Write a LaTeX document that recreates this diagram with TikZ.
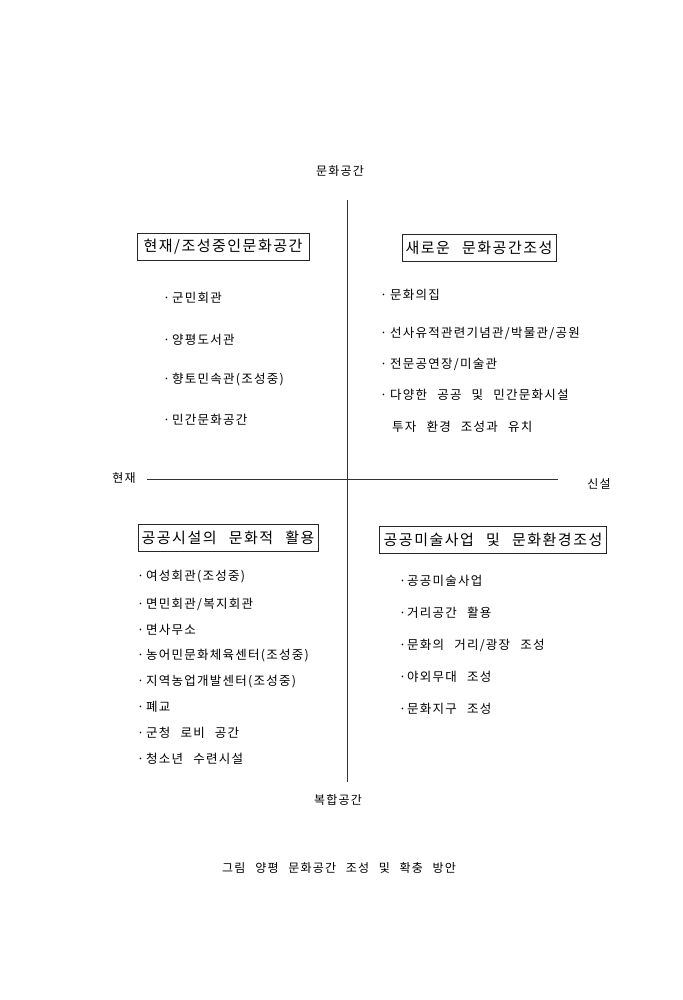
\documentclass[tikz,border=0pt]{standalone}
\usepackage{fontspec}
\setmainfont{Noto Sans CJK KR}[WordSpace=2.5,LetterSpace=10]

\begin{document}
\begin{tikzpicture}[x=1pt,y=-1pt,
    titlebox/.style={draw=black!85,line width=0.6pt,inner xsep=0pt,inner ysep=0pt,
      minimum height=27pt,font=\fontsize{15}{17}\selectfont},
    item/.style={anchor=west,inner sep=0pt,font=\fontsize{12.5}{14}\selectfont},
    axislabel/.style={inner sep=1pt,font=\fontsize{12}{14}\selectfont},
    axisline/.style={draw=black!80,line width=0.6pt}]

  \useasboundingbox[fill=white] (0,0) rectangle (682,1000);

  % axes
  \coordinate (top) at (347,200);
  \coordinate (bottom) at (347,782);
  \coordinate (left) at (147,479);
  \coordinate (right) at (558,479);
  \draw[axisline] (top) -- (bottom);
  \draw[axisline] (left) -- (right);

  \node[axislabel] (culture) at (340,171) {문화공간};
  \node[axislabel] (complex) at (338,800) {복합공간};
  \node[axislabel] (existing) at (124,478) {현재};
  \node[axislabel] (newbuilt) at (599,484) {신설};

  % quadrant titles
  \node[titlebox,minimum width=172pt] (tl) at (223,247) {현재/조성중인문화공간};
  \node[titlebox,minimum width=154pt] (tr) at (479,248) {새로운 문화공간조성};
  \node[titlebox,minimum width=180pt] (bl) at (228,538) {공공시설의 문화적 활용};
  \node[titlebox,minimum width=227pt] (br) at (493,540) {공공미술사업 및 문화환경조성};

  % items
  \foreach \y/\txt [count=\i] in {298/군민회관, 340/양평도서관, 380/향토민속관(조성중), 420/민간문화공간} {
    \node[item] (cur\i) at (163,\y) {\makebox[9pt][l]{·}\txt};
  }
  \foreach \y/\txt [count=\i] in {295/문화의집, 333/{선사유적관련기념관/박물관/공원}, 364/{전문공연장/미술관}, 395/다양한 공공 및 민간문화시설} {
    \node[item] (new\i) at (380,\y) {\makebox[10pt][l]{·}\txt};
  }
  \node[item] (new5) at (392,427) {투자 환경 조성과 유치};

  \foreach \y/\txt [count=\i] in {577/여성회관(조성중), 604/{면민회관/복지회관}, 630/면사무소, 656/농어민문화체육센터(조성중),
      682/지역농업개발센터(조성중), 707/폐교, 733/군청 로비 공간, 759/청소년 수련시설} {
    \node[item] (pub\i) at (137,\y) {\makebox[9pt][l]{·}\txt};
  }
  \foreach \y/\txt [count=\i] in {581/공공미술사업, 613/거리공간 활용, 645/{문화의 거리/광장 조성}, 677/야외무대 조성, 709/문화지구 조성} {
    \node[item] (art\i) at (399,\y) {\makebox[8pt][l]{·}\txt};
  }

  \node[item,font=\fontsize{12}{14}\selectfont] (caption) at (222,868) {그림\hspace{10pt}양평 문화공간 조성 및 확충 방안};

\end{tikzpicture}
\end{document}
